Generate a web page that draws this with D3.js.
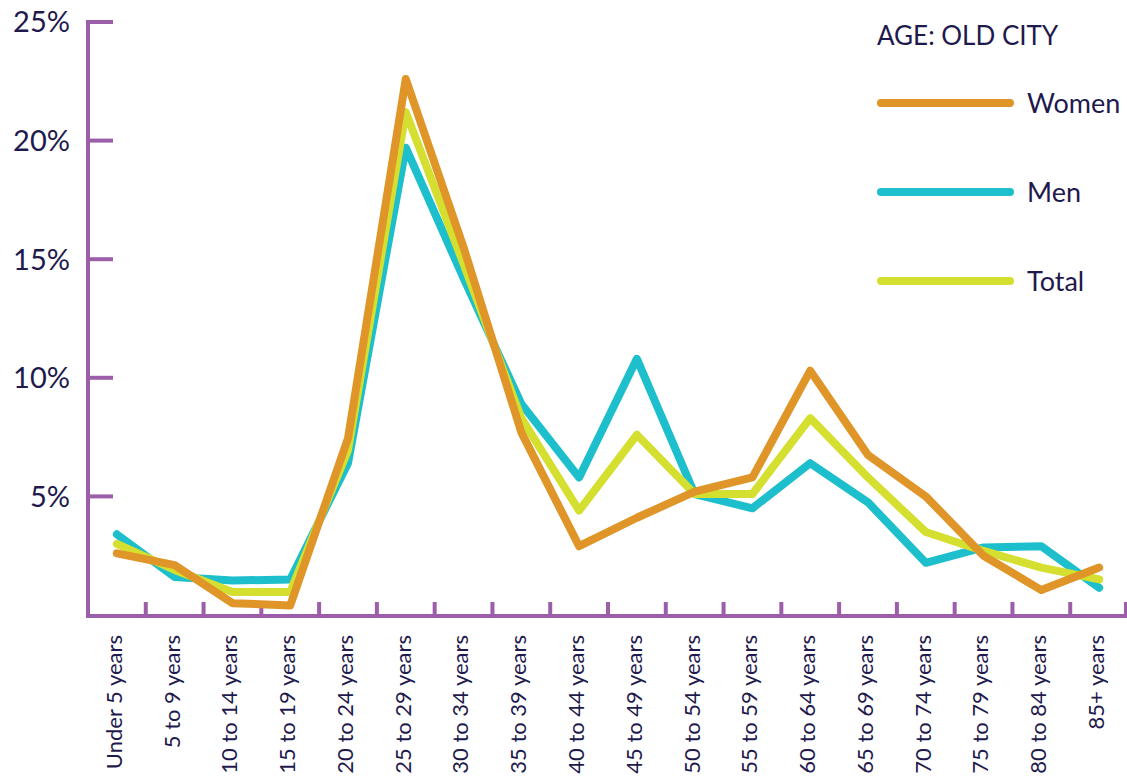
<!DOCTYPE html>
<html>
<head>
<meta charset="utf-8">
<script src="https://cdn.jsdelivr.net/npm/d3@7"></script>
<style>
  html, body { margin: 0; padding: 0; background: #ffffff; }
  svg { display: block; }
  text { font-family: Lato, "Open Sans", sans-serif; fill: #1f1a4d; }
</style>
</head>
<body>
<svg id="chart" width="1127" height="778"></svg>
<script>
// Age groups along the x axis
const ageGroups = [
  "Under 5 years", "5 to 9 years", "10 to 14 years", "15 to 19 years",
  "20 to 24 years", "25 to 29 years", "30 to 34 years", "35 to 39 years",
  "40 to 44 years", "45 to 49 years", "50 to 54 years", "55 to 59 years",
  "60 to 64 years", "65 to 69 years", "70 to 74 years", "75 to 79 years",
  "80 to 84 years", "85+ years"
];

// Share of population in each age group (%)
const women = [2.6, 2.1, 0.5, 0.4, 7.45, 22.6, 15.5, 7.7, 2.9, 4.1, 5.2, 5.8, 10.3, 6.75, 5.0, 2.5, 1.05, 2.0];
const men   = [3.4, 1.6, 1.45, 1.5, 6.4, 19.7, 14.2, 8.9, 5.8, 10.8, 5.1, 4.5, 6.4, 4.75, 2.2, 2.85, 2.9, 1.15];
const total = [3.0, 1.9, 0.97, 0.97, 6.95, 21.2, 14.8, 8.3, 4.4, 7.6, 5.1, 5.1, 8.3, 5.8, 3.5, 2.7, 2.0, 1.5];

const yTicks = [5, 10, 15, 20, 25];
const seriesNames = ["Women", "Men", "Total"];
const legendTitle = "AGE: OLD CITY";

const colors = { Women: "#df9528", Men: "#1cbfcb", Total: "#d4df2f" };
const axisColor = "#9c5ea8";

const svg = d3.select("#chart");

const x = d3.scaleBand().domain(ageGroups).range([88, 1128]).padding(0);
const y = d3.scaleLinear().domain([0, 25]).range([615, 22]);

// Y axis: vertical rule with inward ticks
const yAxis = svg.append("g");
yAxis.append("line")
  .attr("x1", 88).attr("x2", 88)
  .attr("y1", y(25) - 2).attr("y2", 617)
  .attr("stroke", axisColor).attr("stroke-width", 4);
yAxis.selectAll(".ytick")
  .data(yTicks).join("line")
  .attr("x1", 88).attr("x2", 113)
  .attr("y1", d => y(d)).attr("y2", d => y(d))
  .attr("stroke", axisColor).attr("stroke-width", 4);
yAxis.selectAll(".ylabel")
  .data(yTicks).join("text")
  .attr("x", 70).attr("y", d => y(d))
  .attr("dy", "0.36em")
  .attr("text-anchor", "end")
  .attr("font-size", 29)
  .text(d => d + "%");

// X axis: horizontal rule with upward ticks at band edges
const xAxis = svg.append("g");
xAxis.append("line")
  .attr("x1", 86).attr("x2", 1127)
  .attr("y1", 616).attr("y2", 616)
  .attr("stroke", axisColor).attr("stroke-width", 4);
const edges = ageGroups.slice(1).map(g => x(g)).concat([x(ageGroups[ageGroups.length - 1]) + x.bandwidth() - 2]);
xAxis.selectAll(".xtick")
  .data(edges).join("line")
  .attr("x1", d => d).attr("x2", d => d)
  .attr("y1", 602).attr("y2", 617)
  .attr("stroke", axisColor).attr("stroke-width", 4);
xAxis.selectAll(".xlabel")
  .data(ageGroups).join("text")
  .attr("transform", d => `translate(${x(d) + x.bandwidth() / 2 - 3},635) rotate(-90)`)
  .attr("dy", "0.36em")
  .attr("text-anchor", "end")
  .attr("font-size", 22)
  .text(d => d);

// Series lines
const line = d3.line()
  .x((d, i) => x(ageGroups[i]) + x.bandwidth() / 2)
  .y(d => y(d));

const seriesData = { Women: women, Men: men, Total: total };
["Men", "Total", "Women"].forEach(name => {
  svg.append("path")
    .datum(seriesData[name])
    .attr("d", line)
    .attr("fill", "none")
    .attr("stroke", colors[name])
    .attr("stroke-width", 8)
    .attr("stroke-linejoin", "round")
    .attr("stroke-linecap", "round");
});

// Legend
const legend = svg.append("g");
legend.append("text")
  .attr("x", 877).attr("y", 45)
  .attr("font-size", 26)
  .text(legendTitle);
const legendY = [103, 192, 281];
seriesNames.forEach((name, i) => {
  legend.append("line")
    .attr("x1", 881).attr("x2", 1010)
    .attr("y1", legendY[i]).attr("y2", legendY[i])
    .attr("stroke", colors[name])
    .attr("stroke-width", 8)
    .attr("stroke-linecap", "round");
  legend.append("text")
    .attr("x", 1027).attr("y", legendY[i])
    .attr("dy", "0.36em")
    .attr("font-size", 27)
    .text(name);
});
</script>
</body>
</html>
